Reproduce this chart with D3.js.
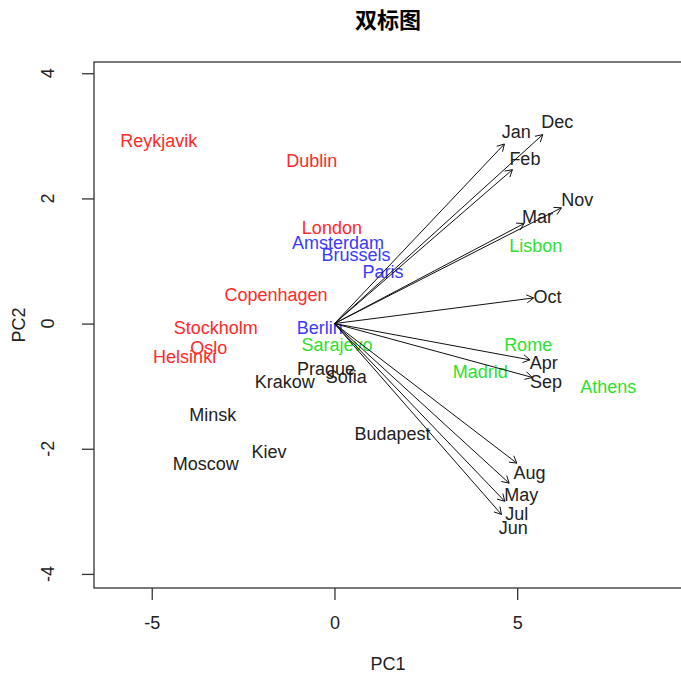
<!DOCTYPE html>
<html>
<head>
<meta charset="utf-8">
<script src="https://cdn.jsdelivr.net/npm/d3@7"></script>
<style>
  body { margin: 0; background: #fff; }
  svg { font-family: "Liberation Sans", Arial, sans-serif; }
  .title { font-family: "Noto Sans CJK SC", sans-serif; font-weight: bold; font-size: 22px; }
  .lbl { font-size: 18px; }
</style>
</head>
<body>
<div id="graphic"></div>
<script>
// city scores (PC1, PC2) and colour group
const cities = ["Reykjavik","Dublin","London","Amsterdam","Brussels","Paris","Copenhagen","Stockholm","Oslo","Helsinki",
  "Berlin","Sarajevo","Prague","Sofia","Krakow","Minsk","Kiev","Moscow","Budapest","Lisbon","Rome","Madrid","Athens"];
const cityPC1 = [-4.81,-0.62,-0.07,0.10,0.59,1.33,-1.60,-3.25,-3.44,-4.10,
  -0.40,0.07,-0.23,0.32,-1.36,-3.33,-1.79,-3.52,1.59,5.51,5.30,3.99,7.49];
const cityPC2 = [2.92,2.61,1.53,1.30,1.11,0.84,0.46,-0.07,-0.38,-0.52,
  -0.07,-0.34,-0.71,-0.85,-0.93,-1.45,-2.05,-2.23,-1.75,1.25,-0.34,-0.76,-1.00];
const cityGroup = ["north","north","north","west","west","west","north","north","north","north",
  "west","south","east","east","east","east","east","east","east","south","south","south","south"];

// month loadings (arrow tips)
const months = ["Jan","Feb","Mar","Apr","May","Jun","Jul","Aug","Sep","Oct","Nov","Dec"];
const loadPC1 = [4.65,4.87,5.19,5.35,4.78,4.57,4.66,4.99,5.41,5.45,6.21,5.70];
const loadPC2 = [2.87,2.46,1.60,-0.58,-2.55,-3.05,-2.84,-2.23,-0.86,0.41,1.85,3.02];

const xTicks = [-5, 0, 5];
const yTicks = [-4, -2, 0, 2, 4];
const groupColour = {north: "#ff2a2a", west: "#3a3aff", south: "#2ee02e", east: "#222"};

const W = 681, H = 677;
const svg = d3.select('#graphic').append('svg').attr('width', W).attr('height', H);

const x = d3.scaleLinear().domain([-6.58, 9.51]).range([94, 682]);
const y = d3.scaleLinear().domain([-4.225, 4.18]).range([588, 62]);

// title
svg.append('text').attr('class','title')
  .attr('x', 388).attr('y', 28).attr('text-anchor','middle').text("双标图");

// box
svg.append('rect')
  .attr('x', x.range()[0]).attr('y', y.range()[1])
  .attr('width', x.range()[1] - x.range()[0]).attr('height', y.range()[0] - y.range()[1])
  .attr('fill','none').attr('stroke','#333').attr('stroke-width',1.3);

// x axis
const xAxis = svg.append('g').attr('transform','translate(0,588)')
  .call(d3.axisBottom(x).tickValues(xTicks).tickSize(12).tickPadding(16).tickFormat(d3.format("d")));
xAxis.select('.domain').remove();
xAxis.selectAll('line').attr('stroke','#333').attr('stroke-width',1.3);
xAxis.selectAll('text').attr('class','lbl').attr('fill','#222').style('font-size','18px')
  .text(d => d < 0 ? "-" + Math.abs(d) : d);

// y axis
const yAxis = svg.append('g').attr('transform','translate(94,0)')
  .call(d3.axisLeft(y).tickValues(yTicks).tickSize(12).tickFormat(""));
yAxis.select('.domain').remove();
yAxis.selectAll('line').attr('stroke','#333').attr('stroke-width',1.3);
svg.append('g').selectAll('text').data(yTicks).join('text')
  .attr('class','lbl').attr('fill','#222')
  .attr('transform', d => 'translate(54,' + y(d) + ') rotate(-90)')
  .attr('text-anchor','middle')
  .text(d => d < 0 ? "-" + Math.abs(d) : d);

// axis titles
svg.append('text').attr('class','lbl').attr('fill','#222')
  .attr('x', (x.range()[0] + x.range()[1]) / 2).attr('y', 670).attr('text-anchor','middle').text("PC1");
svg.append('text').attr('class','lbl').attr('fill','#222')
  .attr('transform','translate(25,' + ((y.range()[0] + y.range()[1]) / 2) + ') rotate(-90)')
  .attr('text-anchor','middle').text("PC2");

// city labels
svg.append('g').selectAll('text').data(cities).join('text')
  .attr('class','lbl')
  .attr('x', (d,i) => x(cityPC1[i]))
  .attr('y', (d,i) => y(cityPC2[i]))
  .attr('dy','0.36em')
  .attr('text-anchor','middle')
  .attr('fill', (d,i) => groupColour[cityGroup[i]])
  .text(d => d);

// month labels at 1.07 x loading
svg.append('g').selectAll('text').data(months).join('text')
  .attr('class','lbl')
  .attr('x', (d,i) => x(loadPC1[i] * 1.07))
  .attr('y', (d,i) => y(loadPC2[i] * 1.07))
  .attr('dy','0.36em')
  .attr('text-anchor','middle')
  .attr('fill','#222')
  .text(d => d);

// arrows
const headLen = 8, headAng = Math.PI / 6;
svg.append('g').selectAll('path').data(months).join('path')
  .attr('fill','none').attr('stroke','#111').attr('stroke-width',1)
  .attr('d', (d,i) => {
    const x0 = x(0), y0 = y(0), x1 = x(loadPC1[i]), y1 = y(loadPC2[i]);
    const a = Math.atan2(y1 - y0, x1 - x0);
    const p = d3.path();
    p.moveTo(x0, y0); p.lineTo(x1, y1);
    p.moveTo(x1 - headLen * Math.cos(a - headAng), y1 - headLen * Math.sin(a - headAng));
    p.lineTo(x1, y1);
    p.lineTo(x1 - headLen * Math.cos(a + headAng), y1 - headLen * Math.sin(a + headAng));
    return p.toString();
  });
</script>
</body>
</html>
